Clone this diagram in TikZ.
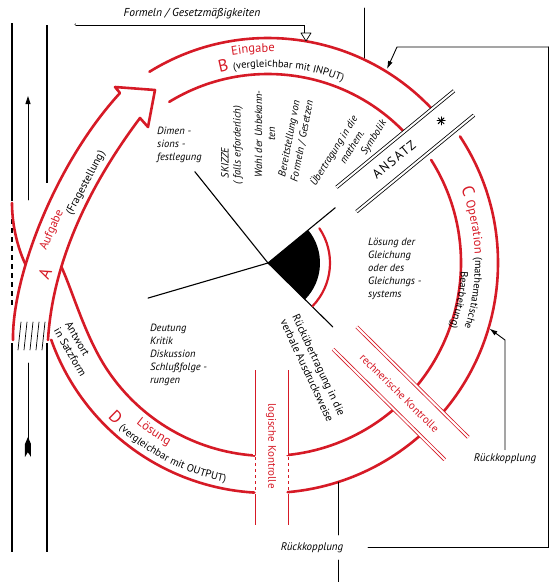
\documentclass[tikz,border=0pt]{standalone}
\usepackage{fontspec}
\setmainfont{PT Sans}
\usepackage{tikz}
\definecolor{kred}{RGB}{214,26,38}
\usetikzlibrary{arrows.meta,decorations.text}
\tikzset{
    ansstar/.pic = {
    \foreach \a in {0,45,90,135}
        \draw[line width=1pt, rotate = \a] (-#1,0) -- (#1,0);
    }
}
\tikzset{
    band/.style = {kred, line width=2.6pt},
    strip/.style = {double=white, double distance=2pt, line width=0.8pt, line cap=butt},
    road/.style = {line width=2.6pt, line cap=butt},
    fb/.style = {line width=0.9pt},
    note/.style = {font=\fontsize{10.5}{13}\selectfont\itshape, inner sep=0pt, align=left},
    tag/.style = {font=\fontsize{11}{13}\selectfont, inner sep=0pt, align=left}
}
\newcommand\bigletter{\fontsize{17}{17}\selectfont}
\newcommand\redword{\fontsize{12.5}{12.5}\selectfont}
\newcommand\bandword{\fontsize{10.5}{10.5}\selectfont}

\begin{document}
\begin{tikzpicture}[line cap=round, line join=round, x=1pt, y=1pt]
	\useasboundingbox (-268,-319) rectangle (281,263);
	\draw[road] (-256,240) -- (-256,62);
	\draw[road, dash pattern=on 5pt off 4pt] (-256,53) -- (-256,-44);
	\draw[road] (-256,-80) -- (-256,-289);
	\draw[road] (-221,238) -- (-221,80);
	\draw[road] (-221,-80) -- (-221,-289);
	\draw[fb, -{Triangle[length=8pt,width=5pt]}] (-240,63) -- (-240,167);
	\draw[fb] (-240,-100) -- (-240,-190);
	\fill (-240,-174) -- (-237,-181) -- (-237,-194) -- (-240,-189) -- (-243,-194) -- (-243,-181) -- cycle;
	\foreach \i in {0,...,4}
		\draw[line width=0.7pt] (-250+6*\i,-87) -- (-247+6*\i,-59);
	\coordinate (xone) at (-242.5,-1.4);
	\coordinate (xtwo) at (-206.6,-3.8);
	\draw[band] (-255,-77) .. controls (-256,-15) and (-214,98) .. (-148,170) -- (-153,176) -- (-113,173) -- (-120,136) -- (-128,145) .. controls (-188,65) and (-216,-10) .. (-220,-77);
	\draw[band] (-256,60) .. controls (-256,35) and (-249,12) .. (xone);
	\draw[band] (121.8:225) arc[start angle=121.8, end angle=43.2, radius=225];
	\draw[band] (121.5:189) arc[start angle=121.5, end angle=43.9, radius=189];
	\draw[band] (33.4:230) arc[start angle=33.4, end angle=-85.1, radius=230];
	\draw[band] (32.3:193) arc[start angle=32.3, end angle=-84.2, radius=193];
	\draw[band] (266.6:230) arc[start angle=266.6, end angle=199.5, radius=230];
	\draw[band] (266:193) arc[start angle=266, end angle=214, radius=193] .. controls (-182.4,-74.8) and (-194.3,-31.1) .. (xtwo);
	\begin{scope}[rotate=39.4]
		\draw[strip] (101,15) -- (253,15);
		\draw[strip] (101,-16.5) -- (253,-16.5);
	\end{scope}
	\begin{scope}[rotate=-44.7]
		\fill[white] (107,-15.5) rectangle (265,17);
		\draw[strip, kred] (108,17) -- (265,17);
		\draw[strip, kred] (107,-15.5) -- (264,-15.5);
	\end{scope}
	\foreach \x in {-13.5,19.5} {
		\draw[strip, kred] (\x,-107) -- (\x,-192);
		\draw[strip, kred, dash pattern=on 3pt off 3pt] (\x,-194) -- (\x,-229);
		\draw[strip, kred] (\x,-231) -- (\x,-262);
	}
	\draw[line width=1.1pt] (0,0) -- (128.7:117);
	\draw[line width=1.1pt] (0,0) -- (39.4:87);
	\draw[line width=1.1pt] (0,0) -- (-44.6:91);
	\draw[line width=1.1pt] (0,0) -- (196.3:125);
	\fill (0,0) -- (39.4:52) arc[start angle=39.4, end angle=-44.6, radius=52] -- cycle;
	\draw[kred, line width=2.2pt] (34:62) arc[start angle=34, end angle=-44, radius=62];
	\path[decorate, decoration={text along path, text align=center, text={|\redword\color{kred}|Eingabe}}] (116:211) arc[start angle=116, end angle=72, radius=211];
	\path[decorate, decoration={text along path, text align=center, text={|\bigletter\color{kred}|B |\bandword\color{black}|(vergleichbar mit INPUT)}}] (128:196) arc[start angle=128, end angle=44, radius=196];
	\path[decorate, decoration={text along path, text align=center, text={|\bigletter\color{kred}|C |\redword\color{kred}|Operation |\bandword\color{black}|(mathematische}}] (46:207) arc[start angle=46, end angle=-43, radius=207];
	\path[decorate, decoration={text along path, text align=center, text={|\bandword|Bearbeitung)}}] (9:193) arc[start angle=9, end angle=-31, radius=193];
	\path[decorate, decoration={text along path, text align=center, text={|\redword\color{kred}|Lösung}}] (216:208) arc[start angle=216, end angle=256, radius=208];
	\path[decorate, decoration={text along path, text align=center, text={|\bigletter\color{kred}|D |\bandword\color{black}|(vergleichbar mit OUTPUT)}}] (196:223) arc[start angle=196, end angle=287, radius=223];
	\node[tag, kred, font=\bigletter, rotate=66] (aletter) at (-223,-10) {A};
	\node[tag, kred, font=\fontsize{12}{12}\selectfont, rotate=66] (aufgabe) at (-216,33) {Aufgabe};
	\node[tag, rotate=62] (frage) at (-182,80) {(Fragestellung)};
	\node[tag, rotate=-60] (antwort) at (-192,-86) {Antwort\\in Satzform};
	\node[font=\fontsize{13}{13}\selectfont\addfontfeatures{LetterSpace=12}, rotate=39.4] (ansatz) at (39.4:163) {ANSATZ};
	\path (39.4:224) pic {ansstar=4pt};
	\node[tag, kred, rotate=-44.7] (rechn) at (-44.7:185) {rechnerische Kontrolle};
	\node[tag, kred, rotate=-90] (logk) at (3,-183) {logische Kontrolle};
	\node[note, anchor=west] (dimen) at (-111,118) {Dimen -\\sions -\\festlegung};
	\node[note, rotate=90] (skizze) at (-43,100) {SKIZZE};
	\node[note, rotate=90] (falls) at (-30,118) {( falls erforderlich)};
	\node[note, rotate=90, align=center] (wahl) at (-3,129) {Wahl der Unbekann-\\ten};
	\node[note, rotate=79, align=center] (bereit) at (28,123) {Bereitstellung von\\Formeln / Gesetzen};
	\node[note, rotate=58] (uebertr) at (66,112) {Übertragung in die};
	\node[note, rotate=58] (mathem) at (84,116) {mathem.};
	\node[note, rotate=58] (symbolik) at (106,125) {Symbolik};
	\node[note, anchor=west] (gleich) at (100,-6) {Lösung der\\Gleichung\\oder des\\Gleichungs -\\systems};
	\node[note, anchor=west] (deutung) at (-118,-92) {Deutung\\Kritik\\Diskussion\\Schlußfolge -\\rungen};
	\node[tag, rotate=-65, align=center] (rueck) at (45,-105) {Rückübertragung in die\\verbale Ausdrucksweise};
	\node[note, font=\fontsize{11.5}{13}\selectfont\itshape] (formeln) at (-76,249) {Formeln / Gesetzmäßigkeiten};
	\draw[double=white, double distance=1.6pt, line width=0.7pt] (-192,239) -| (38,230);
	\draw[line width=0.7pt, fill=white] (33,230) -- (43,230) -- (38,222) -- cycle;
	\draw[fb] (96,255) -- (96,205);
	\coordinate (inB) at (119,194);
	\draw[fb, -{Latex[length=8pt,width=5pt]}] (281,216) -- (129,216) -- (inB);
	\draw[fb] (280,216) -- (280,-284);
	\node[note, font=\fontsize{11}{13}\selectfont\itshape] (rkright) at (237,-196) {Rückkopplung};
	\coordinate (inC) at (-16.5:231);
	\draw[fb, -{Latex[length=8pt,width=5pt]}] ([yshift=4pt]rkright.north) -- (237,-77) -- (inC);
	\node[note, font=\fontsize{11}{13}\selectfont\itshape] (rkbottom) at (44,-285) {Rückkopplung};
	\coordinate (outD) at (70,-219);
	\draw[fb] (outD) -- (70,-272);
	\draw[fb] (70,-297) -- (70,-319);
	\draw[fb] (100,-284) -- (281,-284);
\end{tikzpicture}
\end{document}
